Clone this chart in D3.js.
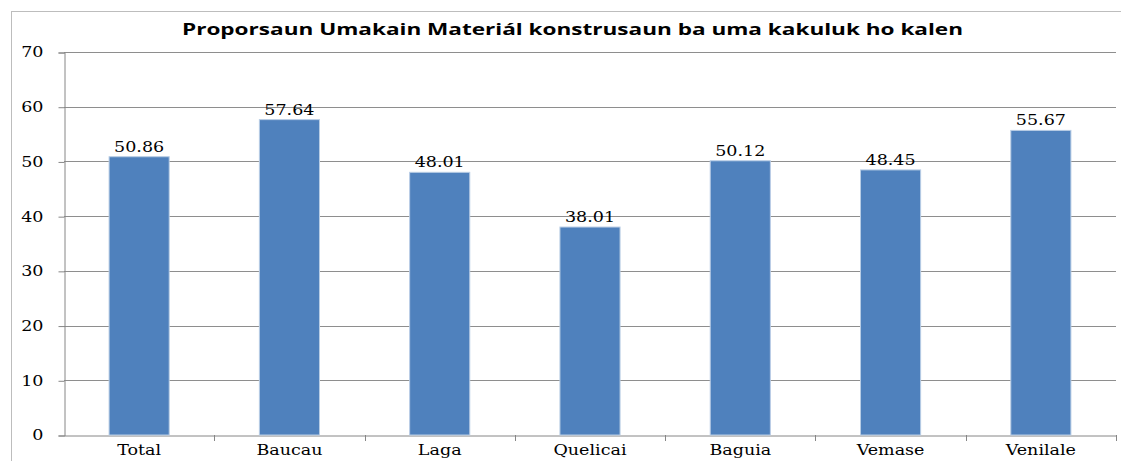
<!DOCTYPE html>
<html>
<head>
<meta charset="utf-8">
<script src="https://cdn.jsdelivr.net/npm/d3@7"></script>
<style>
  body { margin: 0; background: #fff; }
  svg { display: block; }
</style>
</head>
<body>
<div id="chart"></div>
<script>
// chart data
const categories = ["Total", "Baucau", "Laga", "Quelicai", "Baguia", "Vemase", "Venilale"];
const values = [50.86, 57.64, 48.01, 38.01, 50.12, 48.45, 55.67];
const yTicks = [0, 10, 20, 30, 40, 50, 60, 70];
const title = "Proporsaun Umakain Materiál konstrusaun ba uma kakuluk ho kalen";

const w = 1121, h = 461;
const padL = 64, padR = 1116, padT = 52, padB = 435;
const serif = "'DejaVu Serif', serif";
const stretch = 1.25;

const svg = d3.select("#chart").append("svg")
  .attr("width", w)
  .attr("height", h);

// outer frame
svg.append("rect")
  .attr("x", 11.5).attr("y", 11.5)
  .attr("width", w).attr("height", h)
  .attr("fill", "none")
  .attr("stroke", "#bdbdbd");

// the title
svg.append("text")
  .attr("x", 182).attr("y", 35)
  .attr("font-family", "'Open Sans', sans-serif")
  .attr("font-weight", "bold")
  .attr("font-size", 16)
  .attr("textLength", 781)
  .attr("lengthAdjust", "spacingAndGlyphs")
  .text(title);

//THE SCALES
const x = d3.scaleBand()
  .domain(categories)
  .range([padL, padR]);
const y = d3.scaleLinear()
  .domain([0, 70])
  .range([padB, padT]);

// horizontal grid
svg.append("g")
  .selectAll("line")
  .data(yTicks.slice(1))
  .enter()
  .append("line")
  .attr("x1", padL).attr("x2", padR)
  .attr("y1", d => Math.round(y(d)) + 0.5)
  .attr("y2", d => Math.round(y(d)) + 0.5)
  .attr("stroke", "#8e8e8e");

// widen a text node horizontally, the picture looks stretched
function widen(sel) {
  sel.each(function () {
    const len = this.getComputedTextLength();
    d3.select(this)
      .attr("textLength", len * stretch)
      .attr("lengthAdjust", "spacingAndGlyphs");
  });
}

//THE AXES
const yAxis = d3.axisLeft(y).tickValues(yTicks).tickSize(6).tickPadding(15);
const gy = svg.append("g")
  .attr("transform", `translate(${padL + 0.5}, 0.5)`)
  .call(yAxis);
gy.select(".domain").attr("stroke", "#868686");
gy.selectAll(".tick line").attr("stroke", "#868686");
gy.selectAll(".tick text")
  .attr("font-family", serif)
  .attr("font-size", 14)
  .attr("fill", "#000")
  .call(widen);

const xAxis = d3.axisBottom(x).tickSize(0).tickPadding(10);
const gx = svg.append("g")
  .attr("transform", `translate(0, ${padB + 0.5})`)
  .call(xAxis);
gx.select(".domain").attr("stroke", "#868686");
gx.selectAll(".tick text")
  .attr("font-family", serif)
  .attr("font-size", 14)
  .attr("fill", "#000")
  .call(widen);

// tick marks between the categories
svg.append("g")
  .selectAll("line")
  .data(categories)
  .enter()
  .append("line")
  .attr("x1", d => Math.round(x(d) + x.bandwidth()) + 0.5)
  .attr("x2", d => Math.round(x(d) + x.bandwidth()) + 0.5)
  .attr("y1", padB)
  .attr("y2", padB + 6)
  .attr("stroke", "#868686");

//THE BARS
const barW = x.bandwidth() * 0.4;
svg.append("g")
  .selectAll("rect")
  .data(values)
  .enter()
  .append("rect")
  .attr("x", (d, i) => x(categories[i]) + (x.bandwidth() - barW) / 2)
  .attr("y", d => y(d))
  .attr("width", barW)
  .attr("height", d => padB - y(d))
  .attr("fill", "#4f81bd")
  .attr("stroke", "#b9cde5")
  .attr("stroke-width", 1);

// data labels
svg.append("g")
  .selectAll("text")
  .data(values)
  .enter()
  .append("text")
  .attr("x", (d, i) => x(categories[i]) + x.bandwidth() / 2)
  .attr("y", d => y(d) - 5)
  .attr("text-anchor", "middle")
  .attr("font-family", serif)
  .attr("font-size", 14)
  .text(d => d.toFixed(2))
  .call(widen);
</script>
</body>
</html>
